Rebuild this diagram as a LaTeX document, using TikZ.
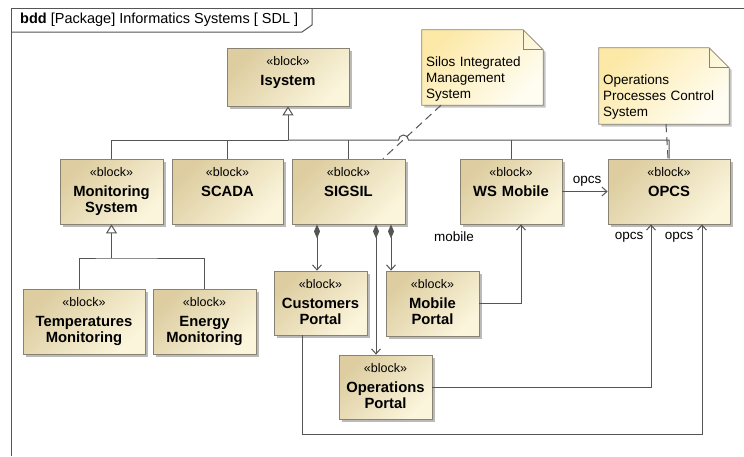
\documentclass[tikz,border=0pt]{standalone}
\usepackage{fontspec}
\setmainfont{Liberation Sans}
\usepackage{xcolor}
\usetikzlibrary{arrows.meta, shadows, calc}

\definecolor{blockA}{HTML}{DDCDA0}
\definecolor{blockB}{HTML}{FBF5DC}
\definecolor{noteA}{HTML}{FCE9A8}
\definecolor{noteB}{HTML}{FFFDF2}
\definecolor{edge}{HTML}{888272}
\definecolor{wire}{HTML}{555555}

\pgfdeclarelayer{background}
\pgfsetlayers{background,main}

\tikzset{
	block/.style = {draw=edge, line width=0.8pt, top color=blockA, bottom color=blockB, shading angle=45,
		drop shadow={shadow xshift=2.5pt, shadow yshift=-2.5pt, fill=black!45, opacity=0.6},
		inner sep=0pt, text width=#1, align=center, text height=17pt, text depth=48pt,
		font=\fontsize{14.8}{15.5}\selectfont},
	note/.style = {inner xsep=4pt, inner ysep=0pt, text width=#1, align=left,
		text height=36pt, text depth=39pt, font=\fontsize{13.5}{16}\selectfont},
	noteshade/.style = {draw=edge, line width=0.8pt, top color=noteA, bottom color=noteB, shading angle=45,
		drop shadow={shadow xshift=2.5pt, shadow yshift=-2.5pt, fill=black!45, opacity=0.5}},
	role/.style = {font=\fontsize{13.5}{16}\selectfont, inner sep=1pt},
	wireline/.style = {draw=wire, line width=1pt},
	gen/.style = {wireline, -{Triangle[open, fill=white, length=9pt, width=11pt]}},
	comp/.style = {wireline, {Diamond[length=14pt, width=6pt]}-{Straight Barb[length=5pt, width=9pt]}},
	assoc/.style = {wireline, -{Straight Barb[length=5pt, width=9pt]}},
	notelink/.style = {wireline, dash pattern=on 8pt off 5pt}
}

\newcommand{\stereo}{{\fontsize{12.5}{14}\selectfont «block»}\\[5pt]}

\begin{document}
\begin{tikzpicture}[x=1pt, y=-1pt]
	\def\fold{20}
	\useasboundingbox (0,0) rectangle (744,456);

	% frame
	\draw[draw=wire, line width=1pt] (744,8) -- (11,8) -- (11,456);
	\draw[draw=wire, line width=1pt] (312,8) -- (312,25) -- (302,32) -- (11,32);
	\node[anchor=west, font=\fontsize{14.5}{16}\selectfont, inner sep=0pt] (title) at (20,20)
		{\textbf{bdd} [Package] Informatics Systems [ SDL ]};

	% blocks
	\node[block=122pt, text depth=41pt] (isys) at (288,77) {\stereo\textbf{Isystem}};
	\node[block=103pt] (mon) at (111.5,191.5) {\stereo\textbf{Monitoring}\\\textbf{System}};
	\node[block=111pt] (scada) at (227.5,191.5) {\stereo\textbf{SCADA}};
	\node[block=113pt] (sigsil) at (348.5,191.5) {\stereo\textbf{SIGSIL}};
	\node[block=102pt] (ws) at (511,191.5) {\stereo\textbf{WS Mobile}};
	\node[block=122pt] (opcs) at (669,191.5) {\stereo\textbf{OPCS}};
	\node[block=122pt] (temp) at (84,321.5) {\stereo\textbf{Temperatures}\\\textbf{Monitoring}};
	\node[block=103pt] (energy) at (204.5,321.5) {\stereo\textbf{Energy}\\\textbf{Monitoring}};
	\node[block=93pt, text depth=47pt] (cust) at (320.5,303) {\stereo\textbf{Customers}\\\textbf{Portal}};
	\node[block=93pt] (mobp) at (432.5,303.5) {\stereo\textbf{Mobile}\\\textbf{Portal}};
	\node[block=93pt, text depth=47pt] (ops) at (385.5,387) {\stereo\textbf{Operations}\\\textbf{Portal}};

	% notes
	\node[note=113pt] (silos) at (482.5,67.5) {Silos Integrated\\Management\\System};
	\node[note=122pt, text depth=40pt] (opnote) at (664,86) {Operations\\Processes Control\\System};
	\begin{pgfonlayer}{background}
		\fill[white] (0,0) rectangle (744,456);
		\foreach \n in {silos, opnote} {
			\shade[noteshade] (\n.north west) -- ([xshift=-\fold]\n.north east) -- ([yshift=-\fold]\n.north east)
				-- (\n.south east) -- (\n.south west) -- cycle;
		}
	\end{pgfonlayer}
	\foreach \n in {silos, opnote} {
		\draw[draw=edge, line width=0.8pt] ([xshift=-\fold]\n.north east) -- ([xshift=-\fold, yshift=-\fold]\n.north east)
			-- ([yshift=-\fold]\n.north east);
	}

	% generalizations
	\coordinate (bus) at (288,140);
	\coordinate (monbus) at (111.5,258);
	\draw[gen] (bus) -- (isys.south);
	\draw[wireline] (mon.north) |- (bus);
	\draw[wireline] (scada.north) -- (scada.north |- bus);
	\draw[wireline] (sigsil.north) -- (sigsil.north |- bus);
	\draw[wireline] (ws.north) -- (ws.north |- bus);
	\draw[wireline] (bus) -- (398.5,140) arc (180:360:5) -- (opcs.north |- bus) -- (opcs.north);
	\draw[gen] (monbus) -- (mon.south);
	\draw[wireline] ([xshift=-5]temp.north) |- (monbus) -| (energy.north);

	% compositions
	\draw[comp] ([xshift=-31.5]sigsil.south) -- ([xshift=-31.5]sigsil.south |- cust.north);
	\draw[comp] ([xshift=27.5]sigsil.south) -- ([xshift=27.5]sigsil.south |- ops.north);
	\draw[comp] ([xshift=42.5]sigsil.south) -- ([xshift=42.5]sigsil.south |- mobp.north);

	% associations
	\coordinate (loop) at (702,434);
	\draw[assoc] (ws.east) -- (opcs.west);
	\draw[assoc] (mobp.east) -| ([xshift=10]ws.south);
	\draw[assoc] (ops.east) -| ([xshift=-18]opcs.south);
	\draw[assoc] ([xshift=-18.5]cust.south) |- (loop) -- ([xshift=33]opcs.south);
	\node[role] (r1) at (587,181) {opcs};
	\node[role] (r2) at (454,237) {mobile};
	\node[role] (r3) at (629,237) {opcs};
	\node[role] (r4) at (679,237) {opcs};

	% note links
	\draw[notelink] ([xshift=-41.5]silos.south) -- ([xshift=34.5]sigsil.north);
	\draw[notelink] ([xshift=2]opnote.south) -- ([xshift=-1]opcs.north);
\end{tikzpicture}
\end{document}
